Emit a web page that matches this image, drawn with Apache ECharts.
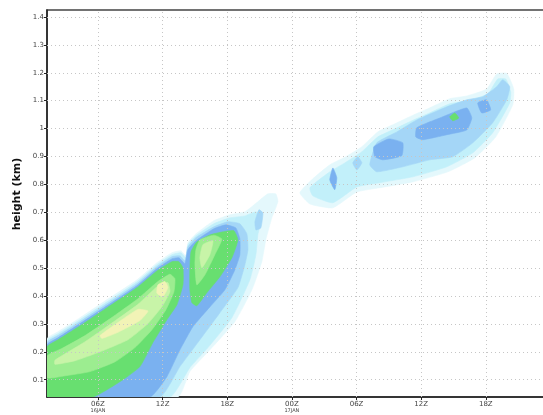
<!DOCTYPE html>
<html>
<head>
<meta charset="utf-8">
<script src="https://cdn.jsdelivr.net/npm/echarts@6/dist/echarts.min.js"></script>
<style>
  html, body { margin: 0; padding: 0; background: #fff; }
  #chart { width: 543px; height: 415px; }
</style>
</head>
<body>
<div id="chart"></div>
<script>
// Time axis: hours since 16JAN 00Z. Height axis: km.
const timeTicks = [6, 12, 18, 24, 30, 36, 42, 48];
const timeLabels = ['06Z', '12Z', '18Z', '00Z', '06Z', '12Z', '18Z', '00Z'];
const dateLabels = ['16JAN', '', '', '17JAN', '', '', '', '18JAN'];
const heightTicks = [0.1, 0.2, 0.3, 0.4, 0.5, 0.6, 0.7, 0.8, 0.9, 1.0, 1.1, 1.2, 1.3, 1.4];
const heightLabels = ['0.1', '0.2', '0.3', '0.4', '0.5', '0.6', '0.7', '0.8', '0.9', '1', '1.1', '1.2', '1.3', '1.4'];

// Filled contour bands, each a list of closed outlines given as [hour, km] vertices.
// Level 1 is the weakest band, level 8 the strongest.
const level1 = [
  [[1.27,0.038],[1.27,0.247],[2.29,0.272],[4.33,0.322],[6.84,0.387],[9.62,0.458],[11.47,0.519],[12.86,0.555],[13.70,0.562],[14.16,0.544],[14.35,0.591],[15.09,0.623],[16.76,0.670],[18.24,0.691],[19.64,0.702],[20.84,0.738],[21.77,0.766],[22.51,0.766],[22.70,0.738],[22.14,0.680],[21.58,0.601],[21.21,0.523],[20.29,0.422],[18.71,0.308],[16.39,0.207],[14.53,0.129],[13.42,0.038]],
  [[24.74,0.770],[25.94,0.820],[27.52,0.870],[28.91,0.897],[30.49,0.935],[31.97,0.988],[33.55,1.017],[35.13,1.046],[36.61,1.071],[38.65,1.107],[40.23,1.117],[42.08,1.142],[43.01,1.196],[43.94,1.198],[44.59,1.142],[44.50,1.085],[42.92,0.970],[40.97,0.895],[38.47,0.845],[35.22,0.809],[32.16,0.788],[30.03,0.773],[27.80,0.716],[25.67,0.730]]
];
const level2 = [
  [[1.27,0.038],[1.27,0.240],[2.29,0.265],[4.33,0.315],[6.84,0.379],[9.62,0.451],[11.47,0.512],[12.86,0.548],[13.70,0.555],[14.16,0.537],[14.35,0.584],[15.09,0.616],[16.76,0.659],[18.24,0.680],[19.64,0.687],[20.66,0.702],[21.21,0.684],[20.84,0.619],[20.66,0.548],[20.10,0.458],[18.43,0.322],[16.21,0.215],[14.53,0.143],[12.68,0.038]],
  [[25.67,0.788],[27.52,0.845],[28.91,0.877],[30.49,0.917],[31.97,0.970],[33.55,0.999],[35.13,1.028],[36.61,1.053],[38.65,1.089],[40.23,1.099],[42.18,1.124],[43.11,1.178],[43.85,1.178],[44.31,1.132],[44.22,1.092],[42.64,0.985],[40.79,0.913],[38.38,0.863],[35.22,0.827],[32.16,0.806],[30.03,0.791],[27.80,0.734],[25.94,0.759]]
];
const level3 = [
  [[1.27,0.038],[1.27,0.233],[2.29,0.258],[4.33,0.308],[6.84,0.372],[9.62,0.444],[11.47,0.505],[12.86,0.541],[13.61,0.544],[14.07,0.526],[14.35,0.576],[15.09,0.609],[16.76,0.648],[18.06,0.666],[19.17,0.659],[19.82,0.623],[19.92,0.566],[19.64,0.512],[18.99,0.430],[17.32,0.340],[15.46,0.243],[13.61,0.147],[11.75,0.038]],
  [[20.57,0.666],[20.94,0.709],[21.31,0.698],[21.12,0.644],[20.66,0.637]],
  [[31.23,0.870],[31.88,0.949],[33.74,0.988],[35.59,1.031],[38.38,1.078],[40.23,1.103],[41.71,1.114],[43.01,1.150],[43.57,1.175],[44.22,1.150],[43.94,1.103],[42.64,1.021],[40.79,0.949],[38.93,0.899],[36.80,0.888],[34.29,0.863],[31.88,0.845]],
  [[29.65,0.877],[30.12,0.899],[30.49,0.877],[30.03,0.852]]
];
const level4 = [
  [[1.27,0.038],[1.27,0.225],[2.29,0.250],[4.33,0.301],[6.84,0.365],[9.62,0.437],[11.47,0.498],[12.86,0.533],[13.51,0.537],[14.07,0.516],[14.35,0.566],[15.09,0.598],[16.76,0.641],[17.87,0.655],[18.80,0.644],[19.17,0.605],[19.17,0.548],[18.71,0.494],[17.78,0.422],[16.39,0.361],[14.81,0.290],[13.61,0.207],[12.40,0.111],[10.82,0.038]],
  [[31.60,0.935],[33.00,0.963],[34.29,0.949],[34.20,0.903],[32.44,0.888],[31.70,0.900]],
  [[35.59,1.003],[37.73,1.038],[40.23,1.074],[40.70,1.038],[40.23,0.995],[38.38,0.978],[36.15,0.960],[35.50,0.970]],
  [[41.25,1.092],[42.08,1.103],[42.45,1.067],[41.62,1.056]],
  [[27.52,0.816],[27.80,0.859],[28.17,0.824],[27.98,0.781]]
];
const level5 = [
  [[1.27,0.038],[1.27,0.218],[2.29,0.243],[4.33,0.293],[6.84,0.358],[9.62,0.430],[11.47,0.490],[12.86,0.523],[13.51,0.523],[13.89,0.501],[13.89,0.440],[13.33,0.369],[12.40,0.315],[11.10,0.233],[9.90,0.147],[8.32,0.100],[5.54,0.038]],
  [[17.60,0.630],[16.39,0.619],[15.18,0.594],[14.63,0.558],[14.53,0.494],[14.53,0.422],[14.72,0.376],[15.18,0.365],[16.11,0.412],[17.32,0.469],[18.43,0.537],[18.99,0.601],[18.62,0.634]],
  [[38.65,1.042],[39.12,1.056],[39.49,1.038],[38.93,1.028]]
];
const level6 = [
  [[1.27,0.185],[2.66,0.212],[4.80,0.258],[7.11,0.318],[9.71,0.390],[11.57,0.452],[12.68,0.478],[13.14,0.462],[13.05,0.415],[12.31,0.351],[11.01,0.279],[9.43,0.215],[7.58,0.164],[5.26,0.129],[2.94,0.114],[1.27,0.107]],
  [[15.46,0.601],[16.76,0.618],[17.50,0.604],[16.85,0.548],[15.93,0.476],[15.18,0.440],[15.00,0.512],[15.09,0.566]]
];
const level7 = [
  [[2.01,0.170],[4.80,0.236],[7.11,0.298],[9.71,0.370],[11.57,0.436],[12.49,0.448],[12.68,0.415],[11.94,0.362],[10.64,0.301],[8.78,0.243],[6.19,0.200],[3.87,0.168],[2.01,0.155]],
  [[15.74,0.584],[16.67,0.598],[16.39,0.548],[15.65,0.501],[15.46,0.537]]
];
const level8 = [
  [[6.19,0.258],[7.86,0.305],[9.71,0.352],[10.64,0.346],[9.90,0.312],[7.86,0.270],[6.37,0.248]],
  [[11.57,0.440],[12.22,0.452],[12.49,0.430],[12.03,0.398],[11.47,0.410]]
];

const levels = [level1, level2, level3, level4, level5, level6, level7, level8];
const levelColors = ['#e4f8fc', '#c2f0fa', '#a4d6f7', '#7ab1f0', '#68df70', '#9ced90', '#c8f4a8', '#f2f3b6'];

// one custom-series item per outline: [first x, first y, level, outline]
const items = [];
levels.forEach((outlines, li) => {
  outlines.forEach((pts, pi) => items.push([pts[0][0], pts[0][1], li, pi]));
});

const chart = echarts.init(document.getElementById('chart'), null, { renderer: 'canvas' });

chart.setOption({
  animation: false,
  backgroundColor: '#ffffff',
  grid: {
    left: 47, right: -29, top: 10, bottom: 18,
    show: true, borderColor: '#444', borderWidth: 1.5,
    containLabel: false, outerBoundsMode: 'none'
  },
  xAxis: {
    type: 'value', min: 1.27, max: 50,
    axisLine: { show: true, lineStyle: { color: '#222', width: 1.5 } },
    axisTick: { show: true, customValues: timeTicks, length: 3, lineStyle: { color: '#222' } },
    splitLine: { show: false },
    axisLabel: {
      customValues: timeTicks,
      margin: 3,
      lineHeight: 7,
      formatter: function (v) {
        const i = timeTicks.indexOf(Math.round(v));
        if (i < 0) return '';
        return '{t|' + timeLabels[i] + '}' + (dateLabels[i] ? '\n{d|' + dateLabels[i] + '}' : '');
      },
      rich: {
        t: { fontSize: 7, color: '#444', fontFamily: 'DejaVu Sans', lineHeight: 8 },
        d: { fontSize: 5, color: '#444', fontFamily: 'DejaVu Sans', lineHeight: 6 }
      }
    }
  },
  yAxis: {
    type: 'value', min: 0.038, max: 1.425,
    axisLine: { show: true, lineStyle: { color: '#222', width: 1.5 } },
    axisTick: { show: true, customValues: heightTicks, length: 3, lineStyle: { color: '#222' } },
    splitLine: { show: false },
    axisLabel: {
      customValues: heightTicks,
      margin: 3,
      fontSize: 7, color: '#444', fontFamily: 'DejaVu Sans',
      formatter: function (v) {
        const i = heightTicks.findIndex(t => Math.abs(t - v) < 1e-6);
        return i < 0 ? '' : heightLabels[i];
      }
    }
  },
  graphic: [{
    type: 'text',
    x: 17, y: 194,
    rotation: Math.PI / 2,
    style: {
      text: 'height (km)',
      fontSize: 11, fontWeight: 'bold', fontFamily: 'DejaVu Sans',
      fill: '#111', align: 'center', verticalAlign: 'middle'
    }
  }],
  series: [
    {
      type: 'custom',
      z: 2,
      clip: true,
      silent: true,
      data: items,
      renderItem: function (params, api) {
        const li = api.value(2), pi = api.value(3);
        const pts = levels[li][pi].map(p => api.coord(p));
        return {
          type: 'polygon',
          shape: { points: pts, smooth: 0.15 },
          style: { fill: levelColors[li], stroke: levelColors[li], lineWidth: 0.6 }
        };
      }
    },
    {
      // dotted reference grid drawn over the shading
      type: 'line',
      z: 4,
      silent: true,
      data: [],
      markLine: {
        silent: true,
        symbol: 'none',
        label: { show: false },
        animation: false,
        lineStyle: { type: [1, 3], color: '#c6c6c6', width: 1 },
        data: heightTicks.map(v => ({ yAxis: v })).concat(timeTicks.map(v => ({ xAxis: v })))
      }
    }
  ]
});
</script>
</body>
</html>
